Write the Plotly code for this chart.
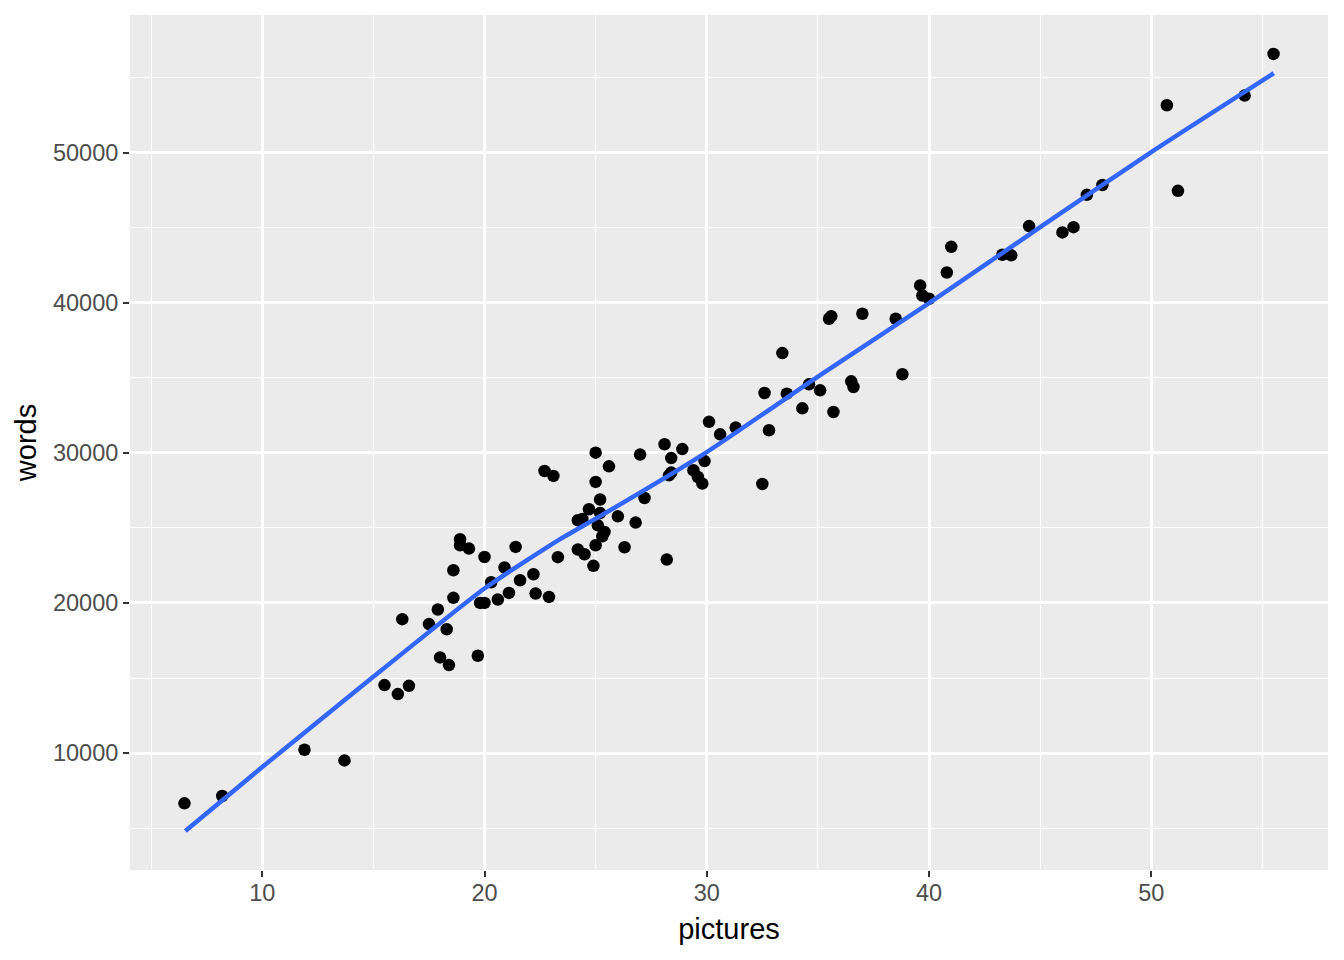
import plotly.graph_objects as go

# Data
pictures = [6.5, 8.2, 11.9, 13.7, 15.5, 16.1, 16.6, 16.3, 17.5, 17.9,
            18.0, 18.3, 18.4, 18.6, 18.6, 18.9, 18.9, 19.3, 19.7, 19.8,
            20.0, 20.0, 20.3, 20.6, 20.9, 21.1, 21.4, 21.6, 22.2, 22.3,
            22.7, 23.1, 22.9, 23.3, 24.2, 24.4, 24.2, 24.5, 24.7, 24.9,
            25.0, 25.0, 25.0, 25.1, 25.2, 25.2, 25.3, 25.4, 25.6, 26.0,
            26.3, 26.8, 27.0, 27.2, 28.1, 28.2, 28.3, 28.4, 28.4, 28.9,
            29.4, 29.6, 29.8, 29.9, 30.1, 30.6, 31.3, 32.6, 32.5, 32.8,
            33.4, 33.6, 34.3, 34.6, 35.1, 35.5, 35.6, 35.7, 36.5, 36.6,
            37.0, 38.5, 38.8, 39.6, 39.7, 40.0, 40.8, 41.0, 43.3, 43.7,
            44.5, 46.0, 46.5, 47.1, 47.8, 50.7, 51.2, 54.2, 55.5]
words = [6650, 7140, 10220, 9510, 14530, 13930, 14480, 18920, 18590, 19560,
         16370, 18250, 15860, 22180, 20340, 24240, 23840, 23620, 16480, 20000,
         20000, 23060, 21380, 20230, 22360, 20670, 23730, 21510, 21910, 20630,
         28790, 28460, 20400, 23050, 25510, 25590, 23560, 23240, 26240, 22470,
         28060, 30010, 23840, 25170, 26890, 25990, 24440, 24730, 29100, 25770,
         23710, 25350, 29880, 26990, 30570, 22890, 28500, 29650, 28680, 30250,
         28840, 28390, 27950, 29450, 32060, 31230, 31680, 33980, 27920, 31500,
         36640, 33940, 32960, 34560, 34160, 38930, 39100, 32720, 34760, 34380,
         39260, 38930, 35230, 41150, 40480, 40260, 42010, 43720, 43190, 43150,
         45100, 44680, 45030, 47180, 47840, 53150, 47450, 53790, 56570]

# Smoothed trend line
smooth_x = [6.54, 10.0, 14.44, 20.0, 23.42, 25.2, 30.0, 35.0, 40.0, 45.0, 50.0, 55.51]
smooth_y = [4810, 9070, 14410, 20960, 24270, 25780, 30050, 35080, 39970, 45030, 50030, 55280]

FONT = "Liberation Sans, Arial, sans-serif"

fig = go.Figure()
fig.add_trace(go.Scatter(
    x=pictures, y=words, mode="markers",
    marker=dict(color="black", size=12.5, line=dict(width=0)),
    showlegend=False, hoverinfo="x+y"))
fig.add_trace(go.Scatter(
    x=smooth_x, y=smooth_y, mode="lines",
    line=dict(color="#3366FF", width=4.5, shape="spline", smoothing=0.6),
    showlegend=False))

axis_common = dict(
    showgrid=True, gridcolor="white", gridwidth=2.6,
    zeroline=False, showline=False,
    ticks="outside", ticklen=6, tickwidth=2, tickcolor="#333333",
    tickfont=dict(family=FONT, size=23.5, color="#4D4D4D"),
)

# page body has an 8px margin; size the figure so the panel lands where the reference has it
fig.update_layout(
    width=1336, height=952,
    paper_bgcolor="white", plot_bgcolor="#EBEBEB",
    margin=dict(l=122, r=16, t=7, b=90),
    font=dict(family=FONT),
    xaxis=dict(
        **axis_common,
        range=[4.05, 57.95],
        tickvals=[10, 20, 30, 40, 50],
        ticklabelstandoff=-4,
        minor=dict(tickvals=[5, 15, 25, 35, 45, 55], showgrid=True,
                   gridcolor="white", gridwidth=1.3, ticks=""),
        title=dict(text="pictures", font=dict(family=FONT, size=29, color="black"),
                   standoff=13),
    ),
    yaxis=dict(
        **axis_common,
        range=[2212, 59160],
        tickvals=[10000, 20000, 30000, 40000, 50000],
        tickformat="d",
        minor=dict(tickvals=[5000, 15000, 25000, 35000, 45000, 55000], showgrid=True,
                   gridcolor="white", gridwidth=1.3, ticks=""),
        title=dict(text="words", font=dict(family=FONT, size=29, color="black"),
                   standoff=7),
    ),
)

fig.write_html("out.html")
